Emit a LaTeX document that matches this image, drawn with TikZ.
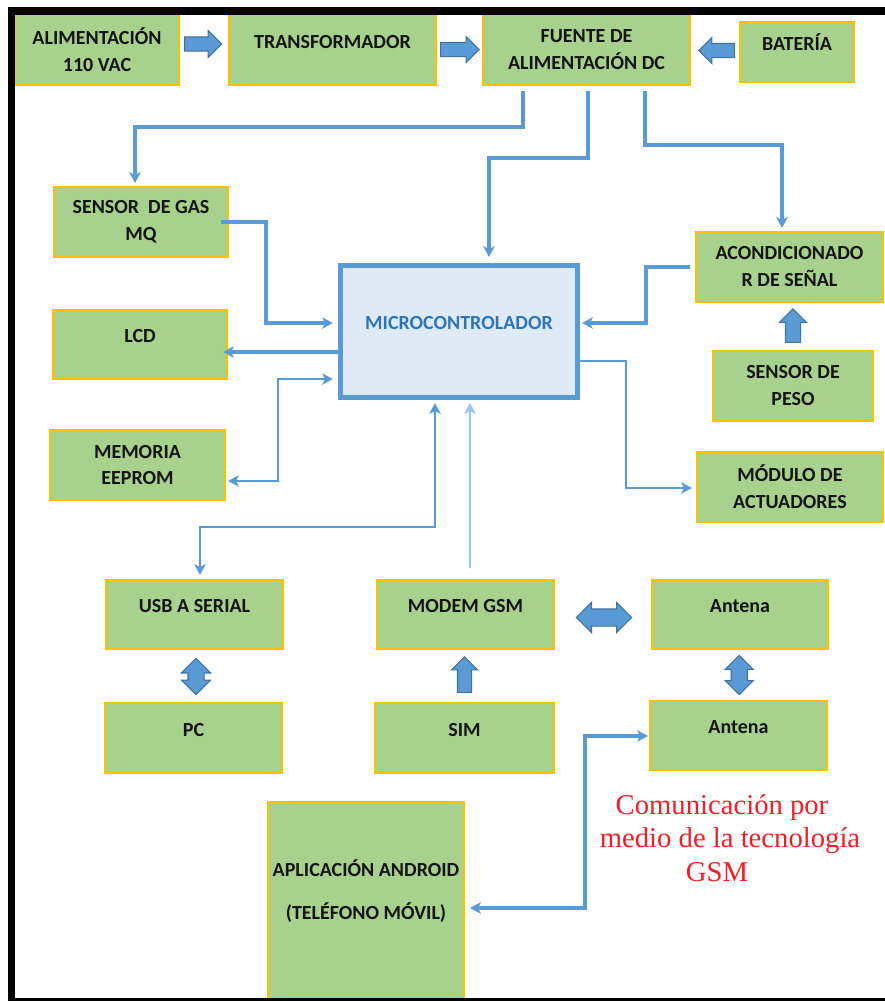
\documentclass[tikz,border=0pt]{standalone}
\usepackage{fontspec}
\setmainfont{Carlito}
\newfontfamily\redserif{Liberation Serif}
\usetikzlibrary{calc,arrows.meta,shapes.arrows}
\definecolor{boxgreen}{HTML}{A9D18E}
\definecolor{boxgold}{HTML}{FFC000}
\definecolor{lineblue}{HTML}{5B9BD5}
\definecolor{lightline}{HTML}{9DC3E6}
\definecolor{arrowedge}{HTML}{41719C}
\definecolor{microfill}{HTML}{DEEBF7}
\definecolor{microtext}{HTML}{2E75B6}
\definecolor{boxtext}{HTML}{141414}
\definecolor{gsmred}{HTML}{F01E28}
\begin{document}
\begin{tikzpicture}[x=0.75pt,y=-0.75pt,
  box/.style={rectangle, draw=boxgold, fill=boxgreen, line width=1.6pt, text=boxtext,
     font=\fontsize{15}{20.25}\selectfont\bfseries, align=center, inner sep=0pt},
  sz/.style 2 args={minimum width={#1*0.75pt}, minimum height={#2*0.75pt}},
  oneline/.style={text height=10pt, text depth=13pt},
  conn/.style={draw=lineblue, line width=2.4pt, >={Stealth[length=8pt,width=8.5pt,inset=2pt]}},
  thinconn/.style={conn, line width=1.7pt},
  blk/.style={fill=lineblue, draw=arrowedge, line width=0.8pt, minimum size=0pt},
  sarr/.style n args={3}{single arrow, blk, inner xsep={#1*0.375pt}, inner ysep={#2*0.375pt},
     single arrow head extend={(#3-#2)*0.375pt}, single arrow tip angle=90, anchor=tail},
  sarrv/.style n args={3}{single arrow, blk, inner ysep={#1*0.375pt}, inner xsep={#2*0.375pt},
     single arrow head extend={(#3-#2)*0.375pt}, single arrow tip angle=90, anchor=tail, shape border rotate=90},
  darr/.style n args={3}{double arrow, blk, inner xsep={#1*0.375pt}, inner ysep={#2*0.375pt},
     double arrow head extend={(#3-#2)*0.375pt}, double arrow tip angle=90},
  darrv/.style n args={3}{double arrow, blk, inner ysep={#1*0.375pt}, inner xsep={#2*0.375pt},
     double arrow head extend={(#3-#2)*0.375pt}, double arrow tip angle=90, shape border rotate=90},
]
\useasboundingbox (0,0) rectangle (885,1001);

% boxes
\node[box,sz={164}{70}] (alim) at (97,50) {ALIMENTACIÓN\\110 VAC};
\node[box,oneline,sz={207}{70}] (trans) at (332.5,50) {TRANSFORMADOR};
\node[box,sz={207}{70}] (fuente) at (586.5,50) {FUENTE DE\\ALIMENTACIÓN DC};
\node[box,oneline,sz={114}{60}] (bat) at (797,52) {BATERÍA};
\node[box,sz={174}{70}] (gas) at (141,222) {SENSOR\ \ DE GAS\\MQ};
\node[box,oneline,sz={174}{69}] (lcd) at (140,344.5) {LCD};
\node[box,sz={175}{70}] (eeprom) at (137.5,465) {MEMORIA\\EEPROM};
\node[draw=lineblue, line width=3.8pt, fill=microfill, minimum width={237*0.75pt}, minimum height={132*0.75pt},
      font=\fontsize{15}{20.25}\selectfont\bfseries, text=microtext, text height=10pt, text depth=13pt, inner sep=0pt]
      (micro) at (459,331.5) {MICROCONTROLADOR};
\node[box,sz={187}{70}] (acond) at (789.5,267) {ACONDICIONADO\\R DE SEÑAL};
\node[box,sz={160}{70}] (peso) at (793,386) {SENSOR DE\\PESO};
\node[box,sz={186}{70}] (act) at (790,487) {MÓDULO DE\\ACTUADORES};
\node[box,oneline,sz={177}{69}] (usb) at (194.5,614.5) {USB A SERIAL};
\node[box,oneline,sz={177}{70}] (pc) at (193.5,738) {PC};
\node[box,oneline,sz={177}{69}] (modem) at (465.5,614.5) {MODEM GSM};
\node[box,oneline,sz={179}{70}] (sim) at (464.5,738) {SIM};
\node[box,oneline,sz={176}{69}] (ant1) at (740,614.5) {Antena};
\node[box,oneline,sz={177}{69}] (ant2) at (738.5,735.5) {Antena};
\node[box,sz={196}{196},text depth=15pt] (android) at (366,900) {APLICACIÓN ANDROID\\[12pt](TELÉFONO MÓVIL)};

\node[font=\redserif\fontsize{21.5}{25}\selectfont, text=gsmred, align=center, inner sep=0pt] (gsmtext) at (730,838)
  {Comunicación por\rule{12pt}{0pt}\\medio de la tecnología\\GSM\rule{19.5pt}{0pt}};

% block arrows
\node[sarr={29}{13}{26}] (b1) at ($(alim.east)+(4,-6)$) {};
\node[sarr={30.5}{13}{25}] (b2) at ($(trans.east)+(3,-0.5)$) {};
\node[sarr={27.5}{13}{25}, shape border rotate=180] (b3) at ($(bat.west)+(-4,-1.5)$) {};
\node[sarrv={25}{14}{26}] (b4) at ($(peso.north)+(0,-7)$) {};
\node[sarrv={27.5}{13}{25}] (b6) at ($(sim.north)+(0,-9)$) {};
\node[darrv={19}{15}{28}] (b5) at ($(usb.south)!0.5!(pc.north)+(2,0.5)$) {};
\node[darr={37}{16}{29}] (b7) at ($(modem.east)!0.5!(ant1.west)+(1,3)$) {};
\node[darrv={22}{15}{27}] (b8) at ($(ant1.south)!0.5!(ant2.north)$) {};

% connectors
\draw[conn,->] ($(fuente.south)+(-63.5,5)$) |- ($(gas.north)+(-6,-59)$) -- ($(gas.north)+(-6,-3)$);
\draw[conn,->] ($(fuente.south)+(1.5,5)$) |- ($(micro.north)+(30,-105)$) -- ($(micro.north)+(30,-6)$);
\draw[conn,->] ($(fuente.south)+(58.5,5)$) |- ($(acond.north)+(-7.5,-86)$) -- ($(acond.north)+(-7.5,-3)$);
\draw[conn,->] ($(gas.east)+(-8,0)$) -| ($(micro.west)+(-72,-8.5)$) -- ($(micro.west)+(-5,-8.5)$);
\draw[conn,line width=3.4pt,->] ($(micro.west)+(0,20.5)$) -- ($(lcd.east)+(-5,7.5)$);
\draw[thinconn,<->] ($(micro.west)+(-5,47.5)$) -- ($(micro.west)+(-60,47.5)$) |- ($(eeprom.east)+(2,16)$);
\draw[conn,->] ($(acond.west)+(-5,0)$) -| ($(micro.east)+(66,-8.5)$) -- ($(micro.east)+(2,-8.5)$);
\draw[thinconn,->] ($(micro.east)+(0,29.5)$) -| ($(act.west)+(-70,1)$) -- ($(act.west)+(-4,1)$);
\draw[thinconn,<->] ($(micro.south)+(-24,3)$) |- ($(usb.north)+(5.5,-52)$) -- ($(usb.north)+(5.5,-4)$);
\draw[thinconn,draw=lightline,->] ($(modem.north)+(4.5,-11)$) -- ($(micro.south)+(11,3)$);
\draw[conn,<->] ($(android.east)+(5,8)$) -| ($(ant2.west)+(-64,0.5)$) -- ($(ant2.west)+(-1,0.5)$);

% frame
\fill[black] (8,7) rectangle (885,15);
\fill[black] (8,7) rectangle (15,1001);
\fill[black] (8,998) rectangle (885,1001);
\end{tikzpicture}
\end{document}
